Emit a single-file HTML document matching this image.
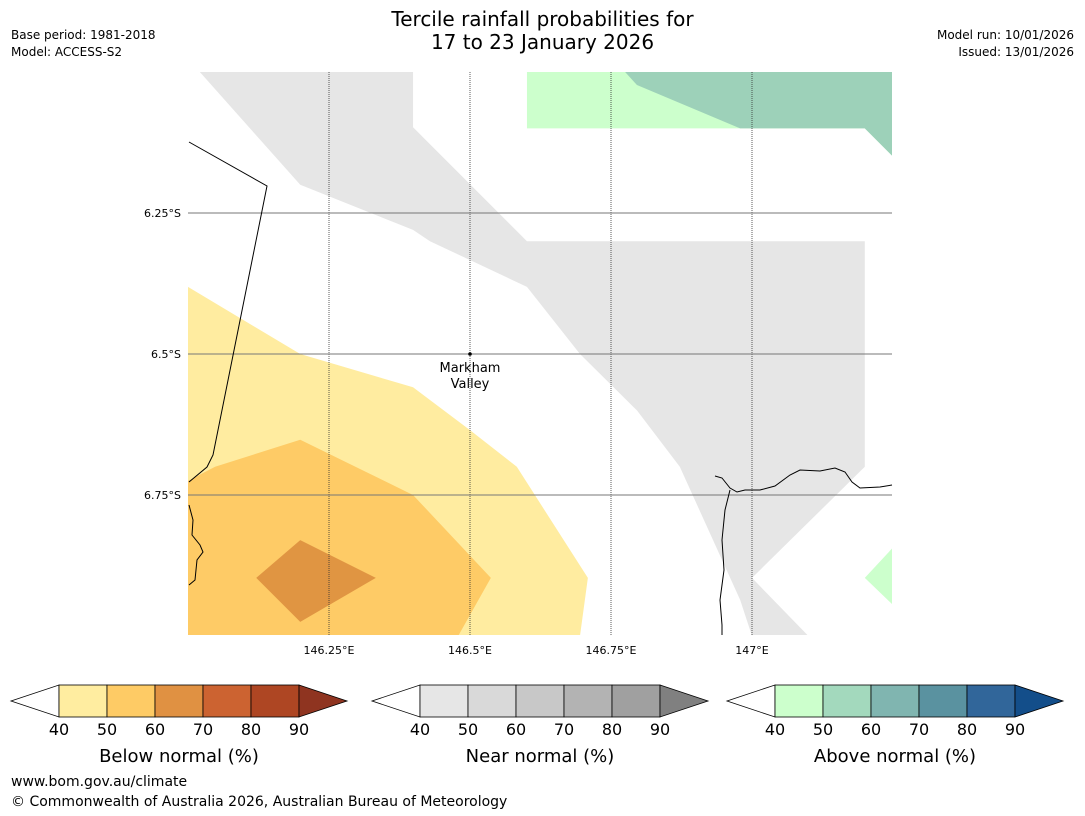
<!DOCTYPE html>
<html><head><meta charset="utf-8">
<style>
html,body{margin:0;padding:0;background:#fff;}
body{width:1085px;height:816px;overflow:hidden;position:relative;font-family:"Liberation Sans","DejaVu Sans",sans-serif;}
.t{position:absolute;white-space:nowrap;color:#000;}
</style></head>
<body>
<div class="t" style="left:0;width:1085px;top:8px;text-align:center;font-size:20px;line-height:23px;font-family:'DejaVu Sans',sans-serif;">Tercile rainfall probabilities for<br>17 to 23 January 2026</div>
<div class="t" style="left:11px;top:27px;font-size:12px;line-height:17px;font-family:'DejaVu Sans',sans-serif;">Base period: 1981-2018<br>Model: ACCESS-S2</div>
<div class="t" style="right:11px;top:27px;font-size:12px;line-height:17px;text-align:right;font-family:'DejaVu Sans',sans-serif;">Model run: 10/01/2026<br>Issued: 13/01/2026</div>
<div class="t" style="left:11px;top:774px;font-size:14px;font-family:'DejaVu Sans',sans-serif;">www.bom.gov.au/climate</div>
<div class="t" style="left:11px;top:794px;font-size:14px;font-family:'DejaVu Sans',sans-serif;">© Commonwealth of Australia 2026, Australian Bureau of Meteorology</div>

<svg id="map" width="1085" height="816" style="position:absolute;left:0;top:0" font-family="DejaVu Sans, sans-serif"></svg>

<script>
const NS="http://www.w3.org/2000/svg";
const svg=document.getElementById('map');
// Map extent
const lonMin=146.0, latMin=6.0; // latitudes in degrees south
const mapX0=188, mapY0=72, pxPerDeg=564, mapW=704, mapH=563;
function X(lon){return mapX0+(lon-lonMin)*pxPerDeg;}
function Y(lat){return mapY0+(lat-latMin)*pxPerDeg;}

// Probability regions (lon, lat south)
const nearNormal40=[[146.021,6.0],[146.399,6.0],[146.399,6.098],[146.601,6.3],[147.2,6.3],[147.2,6.7],[147.0,6.897],[147.1,7.0],[147.0,7.0],[146.979,6.936],[146.872,6.7],[146.796,6.6],[146.695,6.5],[146.601,6.381],[146.429,6.3],[146.399,6.28],[146.199,6.2]];
const above40=[[146.601,6.0],[147.25,6.0],[147.25,6.15],[147.2,6.1],[146.601,6.1]];
const above50=[[146.775,6.0],[147.25,6.0],[147.25,6.15],[147.2,6.1],[146.979,6.1],[146.796,6.023]];
const above40b=[[147.2,6.897],[147.25,6.843],[147.25,6.945]];
const below40=[[146.0,6.381],[146.199,6.5],[146.399,6.559],[146.5,6.635],[146.583,6.7],[146.709,6.897],[146.695,7.0],[146.0,7.0]];
const below50=[[146.0,6.725],[146.048,6.7],[146.199,6.652],[146.399,6.75],[146.537,6.897],[146.479,7.0],[146.0,7.0]];
const below60=[[146.121,6.897],[146.199,6.83],[146.333,6.897],[146.199,6.975]];
const lonTicks=[146.25,146.5,146.75,147.0];
const lonLabels=["146.25°E","146.5°E","146.75°E","147°E"];
const latTicks=[6.25,6.5,6.75];
const latLabels=["6.25°S","6.5°S","6.75°S"];

function el(tag,attrs){const e=document.createElementNS(NS,tag);for(const k in attrs)e.setAttribute(k,attrs[k]);svg.appendChild(e);return e;}
const clip=document.createElementNS(NS,'clipPath');clip.setAttribute('id','mc');
const cr=document.createElementNS(NS,'rect');cr.setAttribute('x',mapX0);cr.setAttribute('y',mapY0);cr.setAttribute('width',mapW);cr.setAttribute('height',mapH);clip.appendChild(cr);svg.appendChild(clip);

function poly(pts,fill,name){
  const p=el('polygon',{points:pts.map(q=>X(q[0])+','+Y(q[1])).join(' '),fill:fill,'clip-path':'url(#mc)'});
  
  
}
poly(nearNormal40,'#e6e6e6','near-normal-40-region');
poly(above40,'#ccffcc','above-normal-40-region');
poly(above50,'#9dd1b9','above-normal-50-region');
poly(above40b,'#ccffcc','above-normal-40-region-south');
poly(below40,'#ffeca0','below-normal-40-region');
poly(below50,'#fecb66','below-normal-50-region');
poly(below60,'#e09542','below-normal-60-region');

// grid
lonTicks.forEach((lon,i)=>{
  const l=el('line',{x1:X(lon),x2:X(lon),y1:mapY0,y2:mapY0+mapH,stroke:'#333','stroke-width':0.8,'stroke-dasharray':'1,1'});
  
  
  const t=el('text',{x:X(lon),y:654,'text-anchor':'middle','font-size':11});
  t.textContent=lonLabels[i];
  
  
});
latTicks.forEach((lat,i)=>{
  const l=el('line',{x1:mapX0,x2:mapX0+mapW,y1:Y(lat),y2:Y(lat),stroke:'#777','stroke-width':1});
  
  
  const t=el('text',{x:181,y:Y(lat)+4,'text-anchor':'end','font-size':11});
  t.textContent=latLabels[i];
  
  
});

// coastlines/borders
[["M189,142 L267,186 L213,455 L207,467 L189,482","province-border"],
 ["M189,505 L193,520 L192,535 L200,545 L203,552 L197,560 L195,580 L189,585","west-coastline"],
 ["M715,476 L722,478 L730,488 L737,492 L745,490 L760,490 L775,486 L790,475 L800,470 L820,471 L835,468 L845,472 L852,482 L860,488 L880,487 L892,485","north-coastline"],
 ["M730,490 L725,510 L722,540 L724,570 L720,600 L722,625 L722,635","east-coastline"]].forEach(d=>{
  const p=el('path',{d:d[0],fill:'none',stroke:'#000','stroke-width':1});
  
  
});

// location marker
const loc=[146.5,6.5];
const dot=el('circle',{cx:X(loc[0]),cy:Y(loc[1]),r:1.8,fill:'#000'});


const lt=el('text',{x:X(loc[0]),y:Y(loc[1])+18,'text-anchor':'middle','font-size':13});
lt.innerHTML='<tspan x="'+X(loc[0])+'">Markham</tspan><tspan x="'+X(loc[0])+'" dy="16">Valley</tspan>';



// colorbars
const cbTicks=["40","50","60","70","80","90"];
const cbBelow=['#ffeda0','#fecb65','#e09142','#cc6331','#ae4623','#8f3420'];
const cbNear=['#e6e6e6','#d9d9d9','#c8c8c8','#b3b3b3','#a0a0a0','#808080'];
const cbAbove=['#ccffcc','#a3d9bd','#80b5b0','#5a92a0','#31669a','#134e8a'];
function colorbar(x0,cols,title,name){
  const top=685,h=32,bw=48;
  const g=el('g',{});
  
  
  const lt=document.createElementNS(NS,'polygon');
  lt.setAttribute('points',`${x0},${top+h/2} ${x0+48},${top} ${x0+48},${top+h}`);
  lt.setAttribute('fill','#fff');lt.setAttribute('stroke','#000');lt.setAttribute('stroke-width','0.8');g.appendChild(lt);
  for(let i=0;i<5;i++){
    const r=document.createElementNS(NS,'rect');
    r.setAttribute('x',x0+48+i*bw);r.setAttribute('y',top);r.setAttribute('width',bw);r.setAttribute('height',h);
    r.setAttribute('fill',cols[i]);r.setAttribute('stroke','#000');r.setAttribute('stroke-width','0.8');g.appendChild(r);
  }
  const rt=document.createElementNS(NS,'polygon');
  const xe=x0+48+5*bw;
  rt.setAttribute('points',`${xe},${top} ${xe+48},${top+h/2} ${xe},${top+h}`);
  rt.setAttribute('fill',cols[5]);rt.setAttribute('stroke','#000');rt.setAttribute('stroke-width','0.8');g.appendChild(rt);
  cbTicks.forEach((t,i)=>{
    const tx=document.createElementNS(NS,'text');
    tx.setAttribute('x',x0+48+i*bw);tx.setAttribute('y',735);tx.setAttribute('text-anchor','middle');tx.setAttribute('font-size','16');
    tx.textContent=t;g.appendChild(tx);
  });
  const tt=document.createElementNS(NS,'text');
  tt.setAttribute('x',x0+48+2.5*bw);tt.setAttribute('y',762);tt.setAttribute('text-anchor','middle');tt.setAttribute('font-size','18');
  tt.textContent=title;g.appendChild(tt);
}
colorbar(11,cbBelow,'Below normal (%)','below-normal-colorbar');
colorbar(372,cbNear,'Near normal (%)','near-normal-colorbar');
colorbar(727,cbAbove,'Above normal (%)','above-normal-colorbar');
</script>
</body></html>
